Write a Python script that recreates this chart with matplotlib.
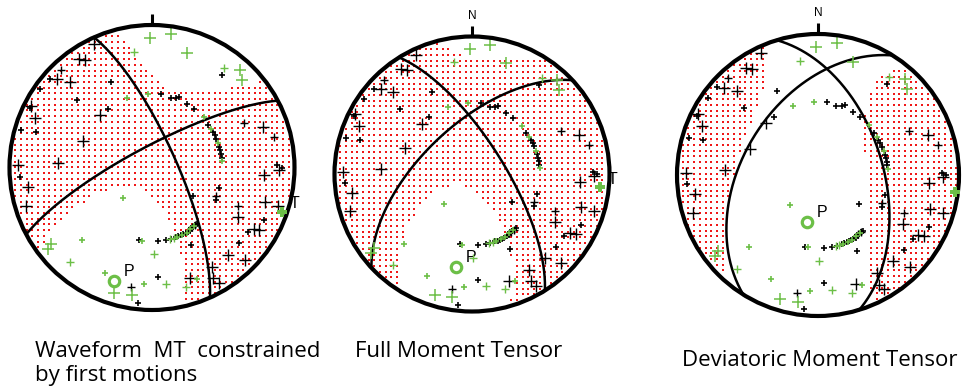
import numpy as np
import matplotlib
matplotlib.use('Agg')
import matplotlib.pyplot as plt
from matplotlib.patches import Circle

plt.rcParams['font.family'] = ['Open Sans', 'DejaVu Sans']

W, H = 963, 391

## station first motions: azimuth / takeoff angle (deg), same stations on every ball
up_big_az = [335, 326, 328, 313, 316, 297, 315, 293, 291, 273, 271, 261, 253, 70, 94, 91,
             107, 107, 120, 121, 120, 139, 135, 149, 151, 150, 161]
up_big_to = [85, 81, 78, 80, 72, 85, 43, 78, 43, 56, 83, 77, 82, 72, 68, 78,
             72, 82, 59, 72, 76, 70, 81, 70, 78, 83, 71]
up_med_az = [317, 64, 76, 190, 114, 114, 143, 146]
up_med_to = [83, 61, 77, 74, 41, 56, 42, 42]
up_small_az = [311, 334, 305, 312, 296, 323, 286, 287, 266, 37, 7, 15, 19, 21, 29, 36,
               53, 60, 63, 66, 73, 76, 79, 82, 125, 107, 117, 115, 124, 89, 90, 175,
               153, 131, 177, 186, 190, 141, 143, 145, 147, 149, 151, 153, 155, 157,
               159, 161, 165, 169]
up_small_to = [84, 56, 85, 60, 85, 43, 85, 74, 82, 70, 43, 42, 43, 44, 42, 42,
               41, 41, 41, 41, 41, 41, 41, 41, 29, 41, 42, 76, 70, 77, 80, 43,
               51, 70, 66, 85, 43, 42, 42, 42, 42, 43, 43, 43, 43, 43,
               43, 43, 43, 43]
dn_big_az = [359, 8, 17, 42, 46, 233, 232, 197, 189]
dn_big_to = [80, 84, 73, 81, 77, 78, 82, 81, 80]
dn_med_az = [351, 36, 221, 173, 164, 179, 163, 166]
dn_med_to = [71, 75, 77, 71, 76, 51, 43, 43]
dn_small_az = [340, 357, 46, 223, 224, 188, 204, 184, 158, 57, 70, 85, 144, 148, 152, 156, 160]
dn_small_to = [43, 43, 42, 24, 60, 43, 70, 71, 73, 41, 41, 41, 42, 42, 43, 43, 43]

## per ball: nodal planes (strike, dip), P/T axes (trend, plunge), MT eigenvalues
titles = ['Waveform  MT  constrained\nby first motions', 'Full Moment Tensor',
          'Deviatoric Moment Tensor']
plane1 = [(336, 76), (328, 71), (343, 52)]
plane2 = [(242, 78), (227, 61), (212, 46)]
p_axis = [(198.5, 17), (190, 32), (193, 62)]
t_axis = [(109, 4), (96, 7), (97, 2)]
mt_t_axis = [(109, 4), (96, 7), (97, 10)]
eig_t = [1.0, 1.0, 1.0]
eig_b = [0.16, 0.23, -0.25]
eig_p = [-0.48, -0.33, -0.75]

# layout in pixels
centers = [(152, 167.5), (472, 174), (818, 175)]
radii = [142.5, 137.5, 141]
title_pos = [(35, 357), (355, 357), (682, 366)]
show_n = [False, True, True]
show_t_label = [True, True, False]

green = '#6cbf47'
red = '#f01818'


def project(az, takeoff):
    # lower hemisphere, equal area
    r = np.sqrt(2) * np.sin(np.radians(np.asarray(takeoff, float)) / 2)
    a = np.radians(np.asarray(az, float))
    return r * np.sin(a), r * np.cos(a)


def axis_vec(trend, plunge):
    tr, pl = np.radians(trend), np.radians(plunge)
    return np.array([np.cos(pl) * np.cos(tr), np.cos(pl) * np.sin(tr), np.sin(pl)])


def plane_xy(strike, dip):
    th = np.linspace(0, np.pi, 241)
    s, d = np.radians(strike), np.radians(dip)
    sv = np.array([np.cos(s), np.sin(s), 0.0])
    dv = np.array([np.cos(d) * np.cos(s + np.pi / 2), np.cos(d) * np.sin(s + np.pi / 2), np.sin(d)])
    v = np.outer(np.cos(th), sv) + np.outer(np.sin(th), dv)
    az = np.degrees(np.arctan2(v[:, 1], v[:, 0]))
    to = np.degrees(np.arccos(np.clip(v[:, 2], -1, 1)))
    return project(az, to)


fig = plt.figure(figsize=(W / 100, H / 100), dpi=100)
m = 1.25
for k in range(3):
    cx, cy = centers[k]
    R = radii[k]
    ax = fig.add_axes([(cx - m * R) / W, (H - cy - m * R) / H, 2 * m * R / W, 2 * m * R / H])
    ax.set_xlim(-m, m)
    ax.set_ylim(-m, m)
    ax.axis('off')

    # moment tensor polarity on a dot grid
    t = axis_vec(*mt_t_axis[k])
    p = axis_vec(*p_axis[k])
    p = p - np.dot(p, t) * t
    p = p / np.linalg.norm(p)
    b = np.cross(t, p)
    M = eig_t[k] * np.outer(t, t) + eig_b[k] * np.outer(b, b) + eig_p[k] * np.outer(p, p)
    step = 5.7 / R
    g = np.arange(-1, 1.0001, step)
    X, Y = np.meshgrid(g, g)
    r = np.hypot(X, Y)
    inside = r < 0.985
    inc = 2 * np.arcsin(np.clip(r / np.sqrt(2), 0, 1))
    az = np.arctan2(X, Y)
    gam = np.stack([np.sin(inc) * np.cos(az), np.sin(inc) * np.sin(az), np.cos(inc)], axis=-1)
    val = np.einsum('...i,ij,...j->...', gam, M, gam)
    sel = inside & (val > 0)
    ax.scatter(X[sel], Y[sel], s=2.0, marker='s', c=red, linewidths=0, zorder=1,
               antialiased=False)

    for sd in (plane1[k], plane2[k]):
        x, y = plane_xy(*sd)
        ax.plot(x, y, color='k', lw=1.8, zorder=2)

    ax.add_patch(Circle((0, 0), 1, fill=False, lw=3.0, ec='k', zorder=5))
    ax.plot([0, 0], [1, 1.075], color='k', lw=2.2, solid_capstyle='butt', zorder=5)
    if show_n[k]:
        ax.text(0, 1.15, 'N', ha='center', va='center', fontsize=8.5, family='Liberation Sans')

    for azs, tos, col, ms, mw in [
            (up_big_az, up_big_to, 'k', 8.2, 1.0), (up_med_az, up_med_to, 'k', 5.5, 1.0),
            (up_small_az, up_small_to, 'k', 4.0, 1.2),
            (dn_big_az, dn_big_to, green, 8.4, 1.1), (dn_med_az, dn_med_to, green, 5.8, 1.0),
            (dn_small_az, dn_small_to, green, 4.0, 1.2)]:
        x, y = project(azs, tos)
        ax.plot(x, y, '+', color=col, ms=ms, mew=mw, ls='none', zorder=4)

    px, py = project(p_axis[k][0], 90 - p_axis[k][1])
    ax.plot(px, py, 'o', mfc='white', mec=green, ms=7.5, mew=2.3, zorder=6)
    ax.annotate('P', (px, py), xytext=(11, 7), textcoords='offset points', ha='center',
                va='center', fontsize=11.5, family='Liberation Sans')
    tx, ty = project(t_axis[k][0], 90 - t_axis[k][1])
    ax.plot(tx, ty, 'P', color=green, ms=7, mew=0, zorder=6, clip_on=False)
    if show_t_label[k]:
        ax.annotate('T', (tx, ty), xytext=(9, 6), textcoords='offset points', ha='center',
                    va='center', fontsize=11.5, family='Liberation Sans')

for k in range(3):
    x0, y0 = title_pos[k]
    lines = titles[k].split('\n')
    for j, line in enumerate(lines):
        fig.text(x0 / W, 1 - (y0 + 24 * j) / H, line, fontsize=16.0, va='baseline')

fig.savefig('out.png', dpi=100, facecolor='white')
